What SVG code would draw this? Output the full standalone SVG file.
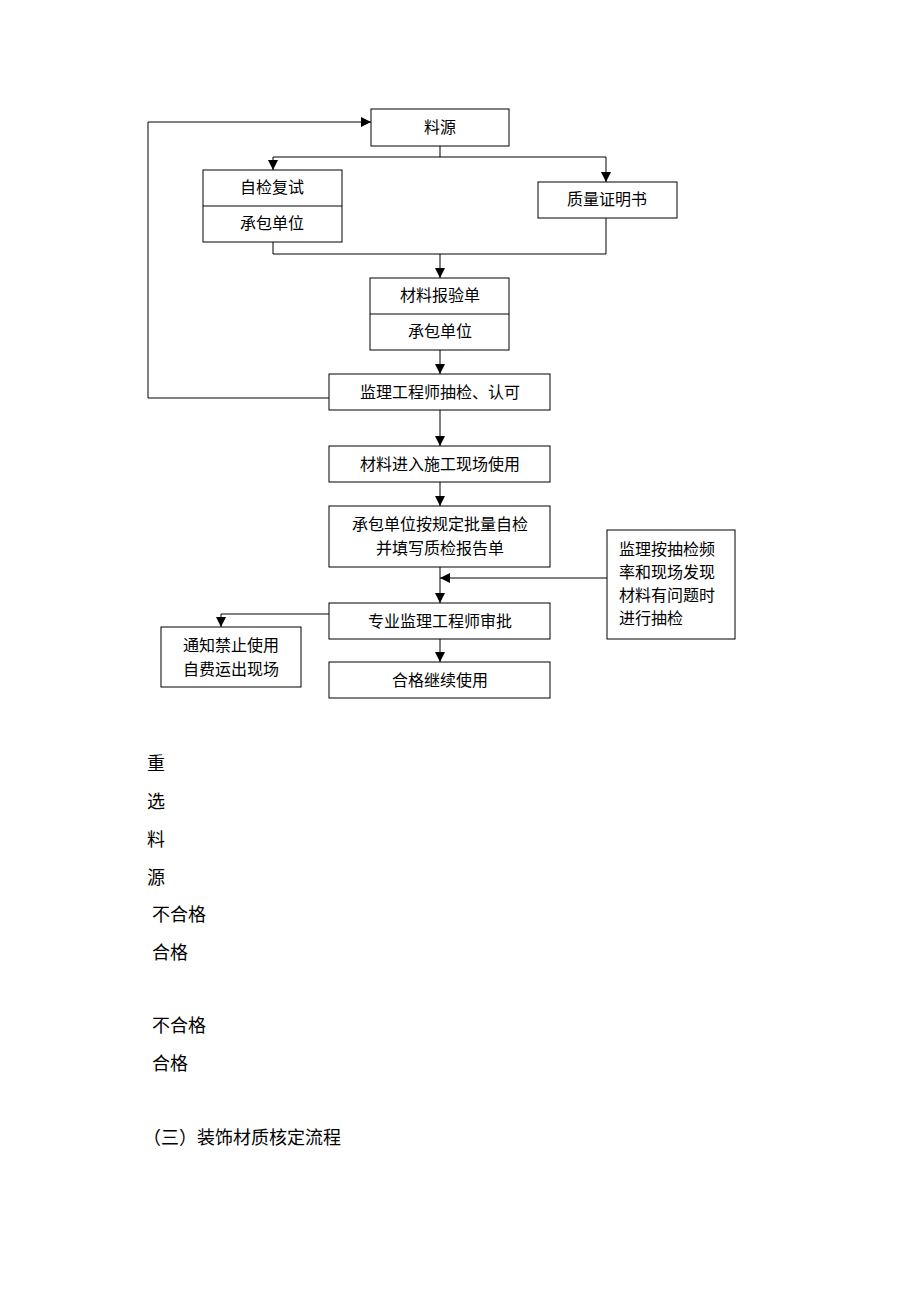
<svg xmlns="http://www.w3.org/2000/svg" width="920" height="1302" viewBox="0 0 920 1302">
<style>
.box{fill:#fff;stroke:#000;stroke-width:1}
.t{font-family:"Liberation Sans","Noto Sans CJK SC",sans-serif;font-size:16px;fill:#000;text-anchor:middle}
.tl{font-family:"Liberation Sans","Noto Sans CJK SC",sans-serif;font-size:16px;fill:#000}
.s{font-family:"Liberation Serif","Noto Sans CJK SC",serif;font-size:18px;fill:#000}
.c{fill:none;stroke:#000;stroke-width:1}
</style>
<defs>
<marker id="ah" viewBox="0 0 10 10" refX="10" refY="5" markerWidth="10" markerHeight="10" markerUnits="userSpaceOnUse" orient="auto">
<path d="M0,0 L10,5 L0,10 z" fill="#000"/>
</marker>
</defs>
<rect width="920" height="1302" fill="#fff"/>
<g id="connectors">
<path class="c" d="M440,146 V157 M273,157 H606"/>
<path class="c" d="M273,157 V170" marker-end="url(#ah)"/>
<path class="c" d="M606,157 V182" marker-end="url(#ah)"/>
<path class="c" d="M273,242 V254 H606 V218"/>
<path class="c" d="M440,254 V278" marker-end="url(#ah)"/>
<path class="c" d="M440,350 V374" marker-end="url(#ah)"/>
<path class="c" d="M329,398 H148 V122 H371" marker-end="url(#ah)"/>
<path class="c" d="M440,410 V446" marker-end="url(#ah)"/>
<path class="c" d="M440,482 V506" marker-end="url(#ah)"/>
<path class="c" d="M440,567 V603" marker-end="url(#ah)"/>
<path class="c" d="M607,578 H440" marker-end="url(#ah)"/>
<path class="c" d="M329,614 H221 V627" marker-end="url(#ah)"/>
<path class="c" d="M440,639 V662" marker-end="url(#ah)"/>
</g>
<g id="n1"><rect class="box" x="371" y="109" width="138" height="37"/><text class="t" x="440" y="133">料源</text></g>
<g id="n2"><rect class="box" x="203" y="170" width="139" height="72"/><line class="c" x1="203" y1="206" x2="342" y2="206"/><text class="t" x="272" y="193">自检复试</text><text class="t" x="272" y="229">承包单位</text></g>
<g id="n3"><rect class="box" x="538" y="182" width="139" height="36"/><text class="t" x="607" y="205">质量证明书</text></g>
<g id="n4"><rect class="box" x="370" y="278" width="139" height="72"/><line class="c" x1="370" y1="314" x2="509" y2="314"/><text class="t" x="440" y="301">材料报验单</text><text class="t" x="440" y="337">承包单位</text></g>
<g id="n5"><rect class="box" x="329" y="374" width="221" height="36"/><text class="t" x="440" y="398">监理工程师抽检、认可</text></g>
<g id="n6"><rect class="box" x="329" y="446" width="221" height="36"/><text class="t" x="440" y="470">材料进入施工现场使用</text></g>
<g id="n7"><rect class="box" x="329" y="506" width="221" height="61"/><text class="t" x="440" y="530">承包单位按规定批量自检</text><text class="t" x="440" y="554">并填写质检报告单</text></g>
<g id="n8"><rect class="box" x="607" y="530" width="128" height="109"/><text class="tl" x="619" y="555">监理按抽检频</text><text class="tl" x="619" y="578">率和现场发现</text><text class="tl" x="619" y="601">材料有问题时</text><text class="tl" x="619" y="624">进行抽检</text></g>
<g id="n9"><rect class="box" x="329" y="603" width="221" height="36"/><text class="t" x="440" y="627">专业监理工程师审批</text></g>
<g id="n10"><rect class="box" x="161" y="627" width="140" height="60"/><text class="t" x="231" y="651">通知禁止使用</text><text class="t" x="231" y="675">自费运出现场</text></g>
<g id="n11"><rect class="box" x="329" y="662" width="221" height="36"/><text class="t" x="440" y="686">合格继续使用</text></g>
<g id="labels">
<text class="s" x="147" y="770">重</text>
<text class="s" x="147" y="808">选</text>
<text class="s" x="147" y="846">料</text>
<text class="s" x="147" y="884">源</text>
<text class="s" x="152" y="921">不合格</text>
<text class="s" x="152" y="959">合格</text>
<text class="s" x="152" y="1032">不合格</text>
<text class="s" x="152" y="1070">合格</text>
<text class="s" x="143" y="1144">（三）装饰材质核定流程</text>
</g>
</svg>
